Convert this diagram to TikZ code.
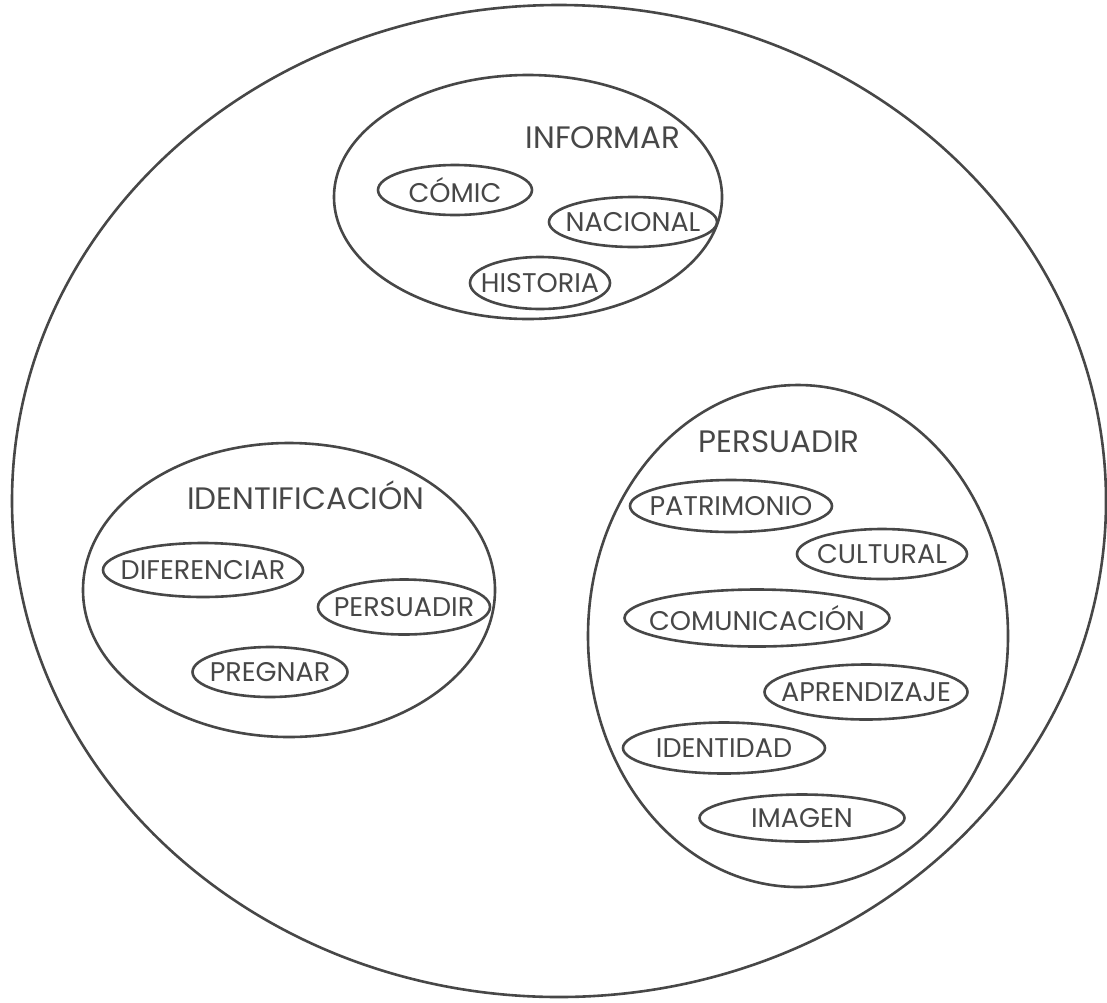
\documentclass[tikz,border=0pt]{standalone}
\usepackage{fontspec}
\setmainfont{Poppins}
\usetikzlibrary{shapes.geometric}
\definecolor{ink}{gray}{0.28}
\begin{document}
\begin{tikzpicture}[x=1pt,y=-1pt,line width=2.6pt,
  every node/.style={text=ink},
  group/.style={draw=ink,ellipse,inner sep=0pt},
  tag/.style={draw=ink,ellipse,inner sep=0pt,font=\fontsize{27}{27}\selectfont},
  title/.style={font=\fontsize{31}{31}\selectfont}]
\useasboundingbox (0,0) rectangle (1107,1002);
% outer circle
\node[group,minimum width=1094,minimum height=992] (todo) at (559,501) {};
% informar
\node[group,minimum width=388,minimum height=244] (inf) at (528,197) {};
\node[title] (infT) at (603,138) {INFORMAR};
\node[tag,minimum width=154,minimum height=50] (comic) at (455,190) {\makebox[0pt]{CÓMIC}};
\node[tag,minimum width=168,minimum height=50] (nac) at (633,222) {\makebox[0pt]{NACIONAL}};
\node[tag,minimum width=140,minimum height=52] (hist) at (540,283) {\makebox[0pt]{HISTORIA}};
% identificacion
\node[group,minimum width=412,minimum height=294] (ide) at (289,590) {};
\node[title] (ideT) at (306,495) {IDENTIFICACIÓN};
\node[tag,minimum width=200,minimum height=54] (dif) at (203,570) {\makebox[0pt]{DIFERENCIAR}};
\node[tag,minimum width=172,minimum height=55] (persB) at (404,607) {\makebox[0pt]{PERSUADIR}};
\node[tag,minimum width=155,minimum height=50] (preg) at (270,672) {\makebox[0pt]{PREGNAR}};
% persuadir
\node[group,minimum width=420,minimum height=502] (per) at (798,636) {};
\node[title] (perT) at (779,442) {PERSUADIR};
\node[tag,minimum width=202,minimum height=52] (pat) at (731,506) {\makebox[0pt]{PATRIMONIO}};
\node[tag,minimum width=170,minimum height=50] (cul) at (882,554) {\makebox[0pt]{CULTURAL}};
\node[tag,minimum width=265,minimum height=57] (com) at (757,618) {\makebox[0pt]{COMUNICACIÓN}};
\node[tag,minimum width=203,minimum height=55] (apr) at (866,692) {\makebox[0pt]{APRENDIZAJE}};
\node[tag,minimum width=202,minimum height=51] (idd) at (724,748) {\makebox[0pt]{IDENTIDAD}};
\node[tag,minimum width=205,minimum height=47] (img) at (802,818) {\makebox[0pt]{IMAGEN}};
\end{tikzpicture}
\end{document}
